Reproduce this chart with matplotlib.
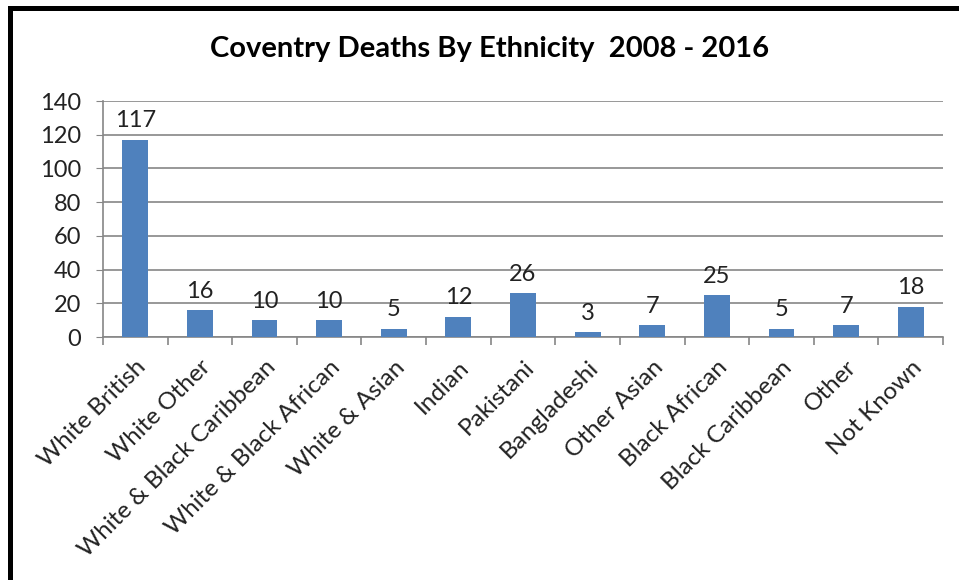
import numpy as np
import matplotlib.pyplot as plt
from matplotlib.patches import Rectangle

plt.rcParams['font.family'] = ['Lato', 'DejaVu Sans']

# Data
groups = ['White British', 'White Other', 'White & Black Caribbean',
          'White & Black African', 'White & Asian', 'Indian', 'Pakistani',
          'Bangladeshi', 'Other Asian', 'Black African', 'Black Caribbean',
          'Other', 'Not Known']
deaths = [117, 16, 10, 10, 5, 12, 26, 3, 7, 25, 5, 7, 18]
y_ticks = [0, 20, 40, 60, 80, 100, 120, 140]

bar_col = '#4F81BD'
axis_col = '#868686'

fig = plt.figure(figsize=(9.59, 5.80), dpi=100)
W, H = 959, 580
ax = fig.add_axes([103 / W, 1 - 337 / H, (943 - 103) / W, (337 - 101) / H])

x = np.arange(len(groups))
ax.bar(x, deaths, width=0.4, color=bar_col, zorder=3)
for xi, v in zip(x, deaths):
    ax.annotate(str(v), (xi, v), xytext=(0, 6), textcoords='offset points',
                ha='center', va='bottom', fontsize=17, color='#222222')

ax.set_xlim(-0.5, len(groups) - 0.5)
ax.set_ylim(0, 140)
ax.set_yticks(y_ticks)
ax.tick_params(axis='y', labelsize=17, length=5, color=axis_col,
               labelcolor='#222222', pad=11)
ax.yaxis.grid(True, color=axis_col, linewidth=1.2, zorder=0)

ax.set_xticks(x)
ax.set_xticklabels(groups, rotation=45, ha='right', va='top',
                   rotation_mode='anchor', fontsize=17.5, color='#222222')
ax.tick_params(axis='x', which='major', length=0, pad=14)
ax.set_xticks(np.arange(-0.5, len(groups)), minor=True)
ax.tick_params(axis='x', which='minor', length=6, color=axis_col, width=1.2)

for s in ['top', 'right']:
    ax.spines[s].set_visible(False)
for s in ['left', 'bottom']:
    ax.spines[s].set_color(axis_col)
    ax.spines[s].set_linewidth(1.2)

fig.text(490 / W, 1 - 49 / H, 'Coventry Deaths By Ethnicity  2008 - 2016',
         ha='center', va='center', fontsize=21, fontweight='bold')

# black frame around the chart
fig.add_artist(Rectangle((8 / W, 0), 5 / W, 1 - 6 / H,
                         transform=fig.transFigure, color='black', lw=0))
fig.add_artist(Rectangle((8 / W, 1 - 11 / H), 1, 5 / H,
                         transform=fig.transFigure, color='black', lw=0))

fig.savefig('out.png', dpi=100)
